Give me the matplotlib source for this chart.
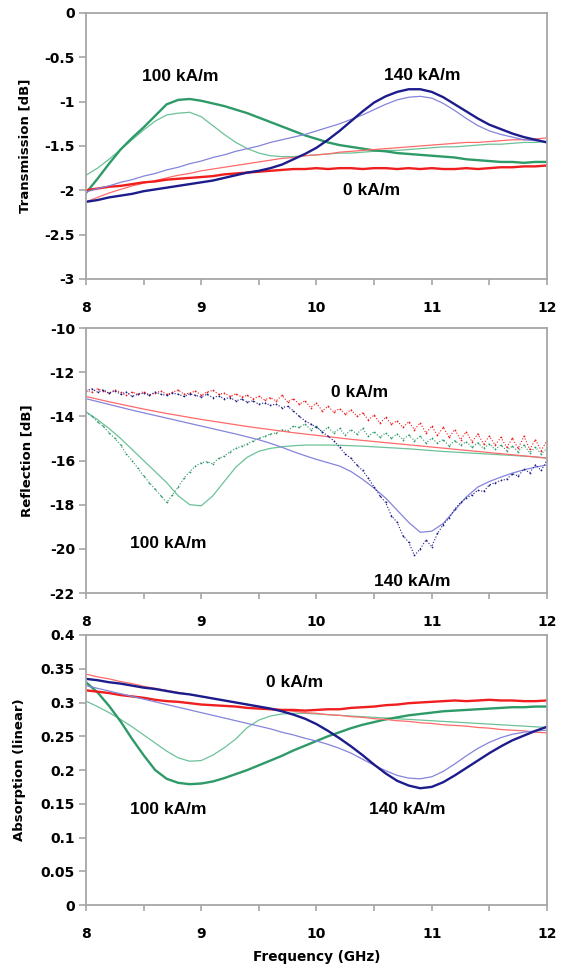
import numpy as np
import matplotlib.pyplot as plt
from matplotlib.ticker import MultipleLocator, FuncFormatter

# frequency grids (GHz)
freq = np.linspace(8, 12, 41)
freq_refl = np.linspace(8, 12, 81)

# ---- Transmission [dB] ----
trans_meas_0 = [-2.00, -1.98, -1.96, -1.95, -1.93, -1.91, -1.90, -1.88, -1.87, -1.86,
                -1.85, -1.84, -1.82, -1.81, -1.80, -1.79, -1.78, -1.77, -1.76, -1.76,
                -1.75, -1.76, -1.75, -1.75, -1.76, -1.75, -1.75, -1.76, -1.75, -1.76,
                -1.75, -1.76, -1.76, -1.75, -1.76, -1.75, -1.74, -1.74, -1.73, -1.73,
                -1.72]
trans_fit_0 = [-2.13, -2.08, -2.03, -1.99, -1.95, -1.92, -1.89, -1.86, -1.83, -1.81,
               -1.78, -1.76, -1.74, -1.72, -1.70, -1.68, -1.66, -1.64, -1.63, -1.61,
               -1.60, -1.59, -1.57, -1.56, -1.55, -1.54, -1.53, -1.52, -1.51, -1.50,
               -1.49, -1.48, -1.47, -1.46, -1.46, -1.45, -1.44, -1.43, -1.43, -1.42,
               -1.41]
trans_meas_100 = [-2.03, -1.87, -1.70, -1.54, -1.41, -1.29, -1.16, -1.03, -0.98, -0.97,
                  -0.99, -1.02, -1.05, -1.09, -1.13, -1.18, -1.23, -1.28, -1.33, -1.38,
                  -1.42, -1.46, -1.49, -1.51, -1.53, -1.55, -1.56, -1.58, -1.59, -1.60,
                  -1.61, -1.62, -1.63, -1.65, -1.66, -1.67, -1.68, -1.68, -1.69, -1.68,
                  -1.68]
trans_fit_100 = [-1.83, -1.75, -1.65, -1.54, -1.43, -1.32, -1.22, -1.15, -1.13, -1.12,
                 -1.17, -1.27, -1.37, -1.46, -1.53, -1.58, -1.61, -1.62, -1.62, -1.61,
                 -1.60, -1.59, -1.58, -1.58, -1.57, -1.56, -1.55, -1.55, -1.54, -1.53,
                 -1.52, -1.51, -1.51, -1.50, -1.49, -1.48, -1.48, -1.47, -1.46, -1.46,
                 -1.45]
trans_meas_140 = [-2.13, -2.11, -2.08, -2.06, -2.04, -2.01, -1.99, -1.97, -1.95, -1.93,
                  -1.91, -1.89, -1.86, -1.83, -1.80, -1.78, -1.75, -1.71, -1.65, -1.59,
                  -1.52, -1.43, -1.33, -1.22, -1.11, -1.01, -0.94, -0.89, -0.86, -0.86,
                  -0.89, -0.95, -1.03, -1.11, -1.19, -1.26, -1.31, -1.36, -1.40, -1.43,
                  -1.46]
trans_fit_140 = [-2.02, -1.98, -1.95, -1.91, -1.88, -1.84, -1.81, -1.77, -1.74, -1.70,
                 -1.67, -1.63, -1.60, -1.56, -1.53, -1.50, -1.46, -1.43, -1.40, -1.37,
                 -1.33, -1.29, -1.25, -1.20, -1.15, -1.09, -1.03, -0.98, -0.95, -0.94,
                 -0.96, -1.02, -1.10, -1.19, -1.27, -1.33, -1.37, -1.40, -1.43, -1.44,
                 -1.45]

# ---- Reflection [dB] ----
refl_meas_0 = [-12.80, -12.90, -12.75, -12.85, -12.95, -12.80, -12.92, -13.05, -12.90, -13.00,
               -12.88, -13.02, -12.95, -12.85, -13.00, -12.92, -12.80, -13.00, -12.95, -12.85,
               -13.05, -12.90, -12.82, -13.00, -12.95, -13.10, -12.98, -13.12, -13.05, -13.20,
               -13.10, -13.25, -13.15, -13.30, -13.05, -13.35, -13.20, -13.45, -13.30, -13.60,
               -13.40, -13.75, -13.55, -13.80, -13.65, -13.90, -13.70, -14.00, -13.85, -14.15,
               -13.95, -14.30, -14.05, -14.35, -14.20, -14.50, -14.25, -14.60, -14.30, -14.75,
               -14.45, -14.85, -14.50, -14.95, -14.60, -15.05, -14.70, -15.15, -14.80, -15.25,
               -14.90, -15.30, -14.95, -15.40, -15.00, -15.45, -14.90, -15.50, -15.05, -15.55,
               -15.10]
refl_fit_0 = [-13.10, -13.22, -13.34, -13.45, -13.56, -13.67, -13.77, -13.87, -13.96, -14.05,
              -14.14, -14.22, -14.30, -14.38, -14.46, -14.53, -14.60, -14.67, -14.74, -14.80,
              -14.86, -14.92, -14.98, -15.04, -15.09, -15.14, -15.19, -15.24, -15.29, -15.34,
              -15.39, -15.44, -15.49, -15.54, -15.59, -15.64, -15.69, -15.74, -15.79, -15.84,
              -15.90]
refl_meas_100 = [-13.80, -14.00, -14.25, -14.45, -14.75, -15.00, -15.30, -15.70, -16.00, -16.35,
                 -16.70, -17.00, -17.30, -17.60, -17.90, -17.55, -17.20, -16.80, -16.50, -16.25,
                 -16.10, -16.05, -16.15, -15.90, -15.80, -15.60, -15.45, -15.35, -15.25, -15.10,
                 -15.00, -14.90, -14.80, -14.75, -14.60, -14.65, -14.45, -14.50, -14.35, -14.60,
                 -14.45, -14.70, -14.50, -14.75, -14.55, -14.85, -14.60, -14.80, -14.55, -14.90,
                 -14.70, -14.95, -14.75, -15.00, -14.80, -15.05, -14.85, -15.10, -14.90, -15.20,
                 -15.00, -15.20, -15.05, -15.35, -15.10, -15.30, -15.15, -15.40, -15.20, -15.45,
                 -15.25, -15.50, -15.30, -15.55, -15.35, -15.60, -15.30, -15.65, -15.40, -15.70,
                 -15.45]
refl_fit_100 = [-13.80, -14.15, -14.55, -15.00, -15.50, -16.00, -16.50, -17.00, -17.60, -18.00,
                -18.05, -17.60, -16.95, -16.30, -15.85, -15.58, -15.45, -15.38, -15.33, -15.30,
                -15.30, -15.30, -15.31, -15.33, -15.35, -15.38, -15.41, -15.44, -15.47, -15.51,
                -15.55, -15.59, -15.62, -15.65, -15.68, -15.71, -15.74, -15.77, -15.80, -15.84,
                -15.88]
refl_meas_140 = [-12.85, -12.75, -12.90, -12.80, -12.95, -12.85, -13.00, -12.90, -13.10, -13.00,
                 -12.95, -13.05, -12.90, -13.00, -13.05, -12.95, -13.00, -13.10, -12.98, -13.05,
                 -13.12, -13.00, -13.15, -13.08, -13.20, -13.15, -13.30, -13.22, -13.35, -13.30,
                 -13.45, -13.38, -13.50, -13.45, -13.60, -13.55, -13.75, -14.00, -14.20, -14.35,
                 -14.50, -14.70, -14.90, -15.10, -15.40, -15.70, -15.90, -16.20, -16.45, -16.80,
                 -17.20, -17.60, -17.90, -18.50, -18.80, -19.40, -19.70, -20.30, -20.00, -19.60,
                 -19.90, -19.30, -18.90, -18.60, -18.20, -17.90, -17.70, -17.55, -17.35, -17.40,
                 -17.10, -17.00, -16.90, -16.85, -16.60, -16.70, -16.40, -16.55, -16.20, -16.45,
                 -16.00]
refl_fit_140 = [-13.20, -13.33, -13.46, -13.59, -13.72, -13.84, -13.96, -14.08, -14.20, -14.32,
                -14.44, -14.56, -14.68, -14.80, -14.93, -15.06, -15.22, -15.40, -15.60, -15.78,
                -15.95, -16.10, -16.25, -16.50, -16.85, -17.25, -17.70, -18.25, -18.80, -19.25,
                -19.20, -18.85, -18.25, -17.65, -17.20, -16.95, -16.75, -16.57, -16.42, -16.30,
                -16.20]

# ---- Absorption (linear) ----
abs_meas_0 = [0.318, 0.316, 0.314, 0.311, 0.309, 0.307, 0.304, 0.302, 0.301, 0.299,
              0.297, 0.296, 0.295, 0.294, 0.292, 0.291, 0.290, 0.289, 0.289, 0.288,
              0.289, 0.290, 0.290, 0.292, 0.293, 0.294, 0.296, 0.297, 0.299, 0.300,
              0.301, 0.302, 0.303, 0.302, 0.303, 0.304, 0.303, 0.303, 0.302, 0.302,
              0.303]
abs_fit_0 = [0.342, 0.338, 0.335, 0.331, 0.328, 0.324, 0.321, 0.318, 0.315, 0.312,
             0.309, 0.306, 0.303, 0.300, 0.297, 0.294, 0.291, 0.289, 0.287, 0.285,
             0.284, 0.282, 0.281, 0.279, 0.278, 0.276, 0.275, 0.273, 0.272, 0.270,
             0.269, 0.267, 0.266, 0.265, 0.263, 0.262, 0.260, 0.259, 0.258, 0.256,
             0.255]
abs_meas_100 = [0.330, 0.315, 0.295, 0.272, 0.246, 0.222, 0.200, 0.187, 0.181, 0.179,
                0.180, 0.183, 0.188, 0.194, 0.200, 0.207, 0.214, 0.221, 0.229, 0.236,
                0.243, 0.250, 0.256, 0.262, 0.267, 0.271, 0.275, 0.278, 0.281, 0.283,
                0.285, 0.287, 0.288, 0.289, 0.290, 0.291, 0.292, 0.293, 0.293, 0.294,
                0.294]
abs_fit_100 = [0.302, 0.294, 0.285, 0.275, 0.264, 0.252, 0.240, 0.228, 0.218, 0.213,
               0.214, 0.222, 0.233, 0.246, 0.263, 0.274, 0.280, 0.283, 0.284, 0.284,
               0.283, 0.282, 0.281, 0.280, 0.279, 0.278, 0.277, 0.276, 0.275, 0.274,
               0.273, 0.272, 0.271, 0.270, 0.269, 0.268, 0.267, 0.266, 0.265, 0.264,
               0.263]
abs_meas_140 = [0.335, 0.333, 0.330, 0.328, 0.325, 0.322, 0.320, 0.317, 0.314, 0.312,
                0.309, 0.306, 0.303, 0.300, 0.297, 0.294, 0.291, 0.287, 0.282, 0.276,
                0.268, 0.258, 0.247, 0.235, 0.222, 0.208, 0.195, 0.184, 0.177, 0.173,
                0.175, 0.182, 0.192, 0.203, 0.214, 0.225, 0.235, 0.244, 0.251, 0.258,
                0.264]
abs_fit_140 = [0.325, 0.321, 0.317, 0.313, 0.309, 0.305, 0.301, 0.297, 0.293, 0.289,
               0.285, 0.281, 0.277, 0.273, 0.269, 0.265, 0.261, 0.256, 0.252, 0.247,
               0.243, 0.238, 0.232, 0.225, 0.216, 0.207, 0.199, 0.192, 0.188, 0.187,
               0.190, 0.198, 0.209, 0.221, 0.232, 0.241, 0.248, 0.253, 0.256, 0.258,
               0.259]

# field labels: (text, x, y) per panel
trans_labels = [("100 kA/m", 8.82, -0.72), ("140 kA/m", 10.92, -0.70), ("0 kA/m", 10.48, -2.0)]
refl_labels = [("0 kA/m", 10.37, -12.9), ("100 kA/m", 8.71, -19.75), ("140 kA/m", 10.83, -21.5)]
abs_labels = [("0 kA/m", 9.81, 0.329), ("100 kA/m", 8.71, 0.141), ("140 kA/m", 10.79, 0.141)]

meas_colors = {"0": "#f01e1e", "100": "#2e9a68", "140": "#1c1c8c"}
fit_colors = {"0": "#ff6a6a", "100": "#6cc298", "140": "#8484dc"}
axis_gray = "#a6a6a6"

plt.rcParams['font.family'] = ['DejaVu Sans']

fig = plt.figure(figsize=(5.68, 9.69), dpi=100)
ax_t = fig.add_axes([0.1514, 0.7121, 0.8116, 0.2745])
ax_r = fig.add_axes([0.1514, 0.3880, 0.8116, 0.2735])
ax_a = fig.add_axes([0.1514, 0.0660, 0.8116, 0.2787])


def style(ax, ylim, ystep, ylabel, label_x):
    ax.set_xlim(8, 12)
    ax.set_ylim(*ylim)
    ax.xaxis.set_major_locator(MultipleLocator(1))
    ax.xaxis.set_minor_locator(MultipleLocator(0.5))
    ax.yaxis.set_major_locator(MultipleLocator(ystep))
    ax.yaxis.set_major_formatter(FuncFormatter(lambda v, p: f"{v:g}"))
    for sp in ax.spines.values():
        sp.set_color(axis_gray)
        sp.set_linewidth(1.3)
    ax.tick_params(axis='both', which='both', direction='out', color=axis_gray,
                   width=1.2, labelsize=10)
    ax.tick_params(axis='x', which='both', length=4, pad=12)
    ax.tick_params(axis='y', which='major', length=5, pad=3)
    for lab in ax.get_xticklabels() + ax.get_yticklabels():
        lab.set_fontweight('bold')
    ax.set_ylabel(ylabel, fontsize=9.5, fontweight='bold')
    ax.yaxis.set_label_coords(label_x, 0.5)


def annotate(ax, labels):
    for text, x, y in labels:
        ax.text(x, y, text, ha='center', va='center', fontsize=12.5,
                fontweight='bold', family=['Liberation Sans', 'DejaVu Sans'])


# transmission
for key, meas, fit in [("100", trans_meas_100, trans_fit_100),
                       ("0", trans_meas_0, trans_fit_0),
                       ("140", trans_meas_140, trans_fit_140)]:
    ax_t.plot(freq, fit, color=fit_colors[key], lw=0.9)
    ax_t.plot(freq, meas, color=meas_colors[key], lw=1.7)
style(ax_t, (-3, 0), 0.5, "Transmission [dB]", -0.119)
annotate(ax_t, trans_labels)

# reflection
for key, meas, fit in [("100", refl_meas_100, refl_fit_100),
                       ("0", refl_meas_0, refl_fit_0),
                       ("140", refl_meas_140, refl_fit_140)]:
    ax_r.plot(freq, fit, color=fit_colors[key], lw=0.9)
    ax_r.plot(freq_refl, meas, color=meas_colors[key], ls=':', lw=0.8,
              marker='.', ms=2.5, mew=0)
style(ax_r, (-22, -10), 2, "Reflection [dB]", -0.113)
annotate(ax_r, refl_labels)

# absorption
for key, meas, fit in [("100", abs_meas_100, abs_fit_100),
                       ("0", abs_meas_0, abs_fit_0),
                       ("140", abs_meas_140, abs_fit_140)]:
    ax_a.plot(freq, fit, color=fit_colors[key], lw=0.9)
    ax_a.plot(freq, meas, color=meas_colors[key], lw=1.7)
style(ax_a, (0, 0.4), 0.05, "Absorption (linear)", -0.130)
annotate(ax_a, abs_labels)
ax_a.set_xlabel("Frequency (GHz)", fontsize=9.8, fontweight='bold', labelpad=6)

fig.savefig("out.png", dpi=100)
